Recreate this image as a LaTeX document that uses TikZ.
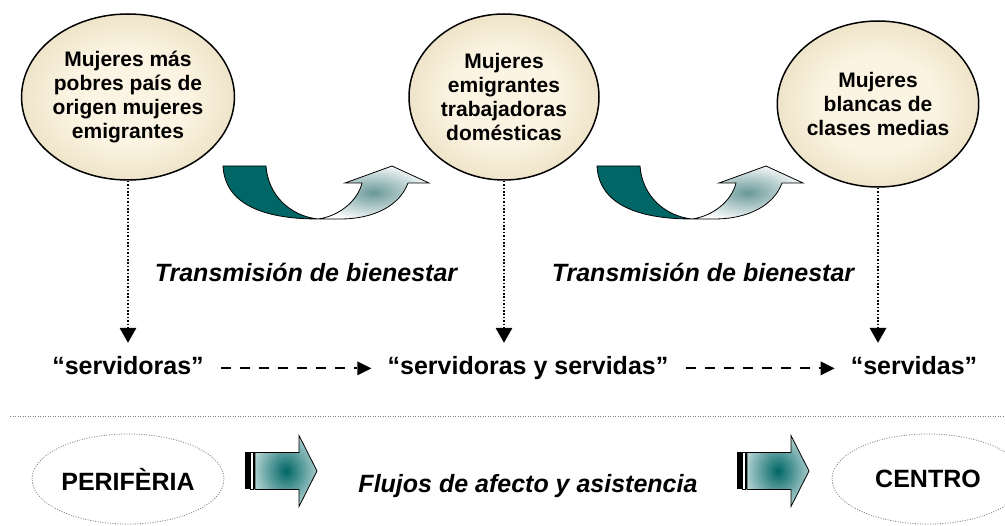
\documentclass[tikz,border=0pt]{standalone}
\usepackage{fontspec}
\setmainfont{Liberation Sans}
\usetikzlibrary{shapes.geometric,arrows.meta}
\definecolor{verdemar}{RGB}{0,102,102}
\definecolor{crema}{RGB}{252,244,226}
\definecolor{arena}{RGB}{208,192,146}
\definecolor{aguagris}{RGB}{105,152,152}
\pgfdeclareradialshading{bolacrema}{\pgfpoint{0bp}{0bp}}{color(0bp)=(crema); color(14bp)=(crema); color(50bp)=(arena)}
\pgfdeclareradialshading{brilloagua}{\pgfpoint{0bp}{0bp}}{color(0bp)=(aguagris); color(28bp)=(white); color(50bp)=(white)}
\pgfdeclareradialshading{centroagua}{\pgfpoint{0bp}{0bp}}{color(0bp)=(verdemar); color(38bp)=(white); color(50bp)=(white)}
\tikzset{
    persona/.style={ellipse, draw, line width=1.5pt, shade, shading=bolacrema, minimum width=190pt, minimum height=166pt, inner sep=0pt, align=center, font=\fontsize{21}{24}\selectfont\bfseries},
    rol/.style={inner sep=0pt, anchor=base, text height=18.3pt, text depth=5pt, font=\fontsize{25}{28}\selectfont\bfseries},
    lema/.style={inner sep=0pt, anchor=base, font=\fontsize{25}{28}\selectfont\bfseries\itshape},
    zona/.style={ellipse, draw=gray, dash pattern=on 1pt off 1.5pt, line width=0.8pt, minimum width=192pt, minimum height=90pt, inner sep=0pt, font=\fontsize{25}{28}\selectfont\bfseries},
    punta/.style 2 args={-{Triangle[length=#1,width=#2,line width=0pt]}},
    baja/.style={draw, line width=1.6pt, dash pattern=on 1.6pt off 1.8pt, punta={15pt}{17pt}, shorten >=13.7pt},
    pasa/.style={draw, line width=2pt, dash pattern=on 10pt off 9pt, punta={14pt}{14pt}, shorten <=17pt, shorten >=16pt},
    pics/curva/.style={code={
        \draw[line width=0.8pt, fill=verdemar] (0,0) -- (43,0) .. controls (45,29) and (67,50) .. (95,53) .. controls (42,53) and (2,39) .. (0,0) -- cycle;
        \draw[line width=0.8pt, shade, shading=brilloagua] (95,53) .. controls (117,50) and (135,34) .. (139,17) -- (122,17) -- (169,0) -- (206,17) -- (185,17) .. controls (177,39) and (152,53) .. (117,53) -- cycle;
    }},
    pics/bloque/.style={code={
        \fill (0,-18.5) rectangle (5,18.5);
        \draw[line width=0.6pt] (5,-18.5) rectangle (8,18.5);
        \fill (8,-18.5) rectangle (10,18.5);
        \draw[line width=0.8pt, shade, shading=centroagua] (10,-18.5) -- (54,-18.5) -- (54,-35.5) -- (72,0) -- (54,35.5) -- (54,18.5) -- (10,18.5) -- cycle;
    }}
}
\begin{document}
\begin{tikzpicture}[x=1pt, y=-1pt]
    \useasboundingbox (0,0) rectangle (1005,526);
    \clip (0,0) rectangle (1005,526);

    % women groups
    \node [persona] (m1) at (128,97) {Mujeres más\\pobres país de\\origen mujeres\\emigrantes};
    \node [persona] (m2) at (504,97) {Mujeres\\emigrantes\\trabajadoras\\domésticas};
    \node [persona] (m3) at (878,104) {Mujeres\\blancas de\\clases medias};

    \pic at (223,166) {curva};
    \pic at (597,166) {curva};

    \node [lema] (t1) at (306,282) {Transmisión de bienestar};
    \node [lema] (t2) at (703,282) {Transmisión de bienestar};

    \node [rol] (s1) at (128,375) {“servidoras”};
    \node [rol] (s2) at (528,375) {“servidoras y servidas”};
    \node [rol] (s3) at (914,375) {“servidas”};

    \path [baja] (m1.south) -- (m1.south |- s1.north);
    \path [baja] (m2.south) -- (m2.south |- s2.north);
    \path [baja] (m3.south) -- (m3.south |- s3.north);
    \path [pasa] (s1.east) -- (s2.west);
    \path [pasa] (s2.east) -- (s3.west);

    \draw [gray, line width=0.8pt, dash pattern=on 1pt off 1.5pt] (10,416) -- (1005,416);

    % periphery and centre
    \node [zona] (per) at (128,479) {PERIFÈRIA};
    \node [zona] (cen) at (928,479) {CENTRO};
    \pic at (245,471) {bloque};
    \pic at (737,471) {bloque};
    \node [lema] (flu) at (528,493) {Flujos de afecto y asistencia};
\end{tikzpicture}
\end{document}
